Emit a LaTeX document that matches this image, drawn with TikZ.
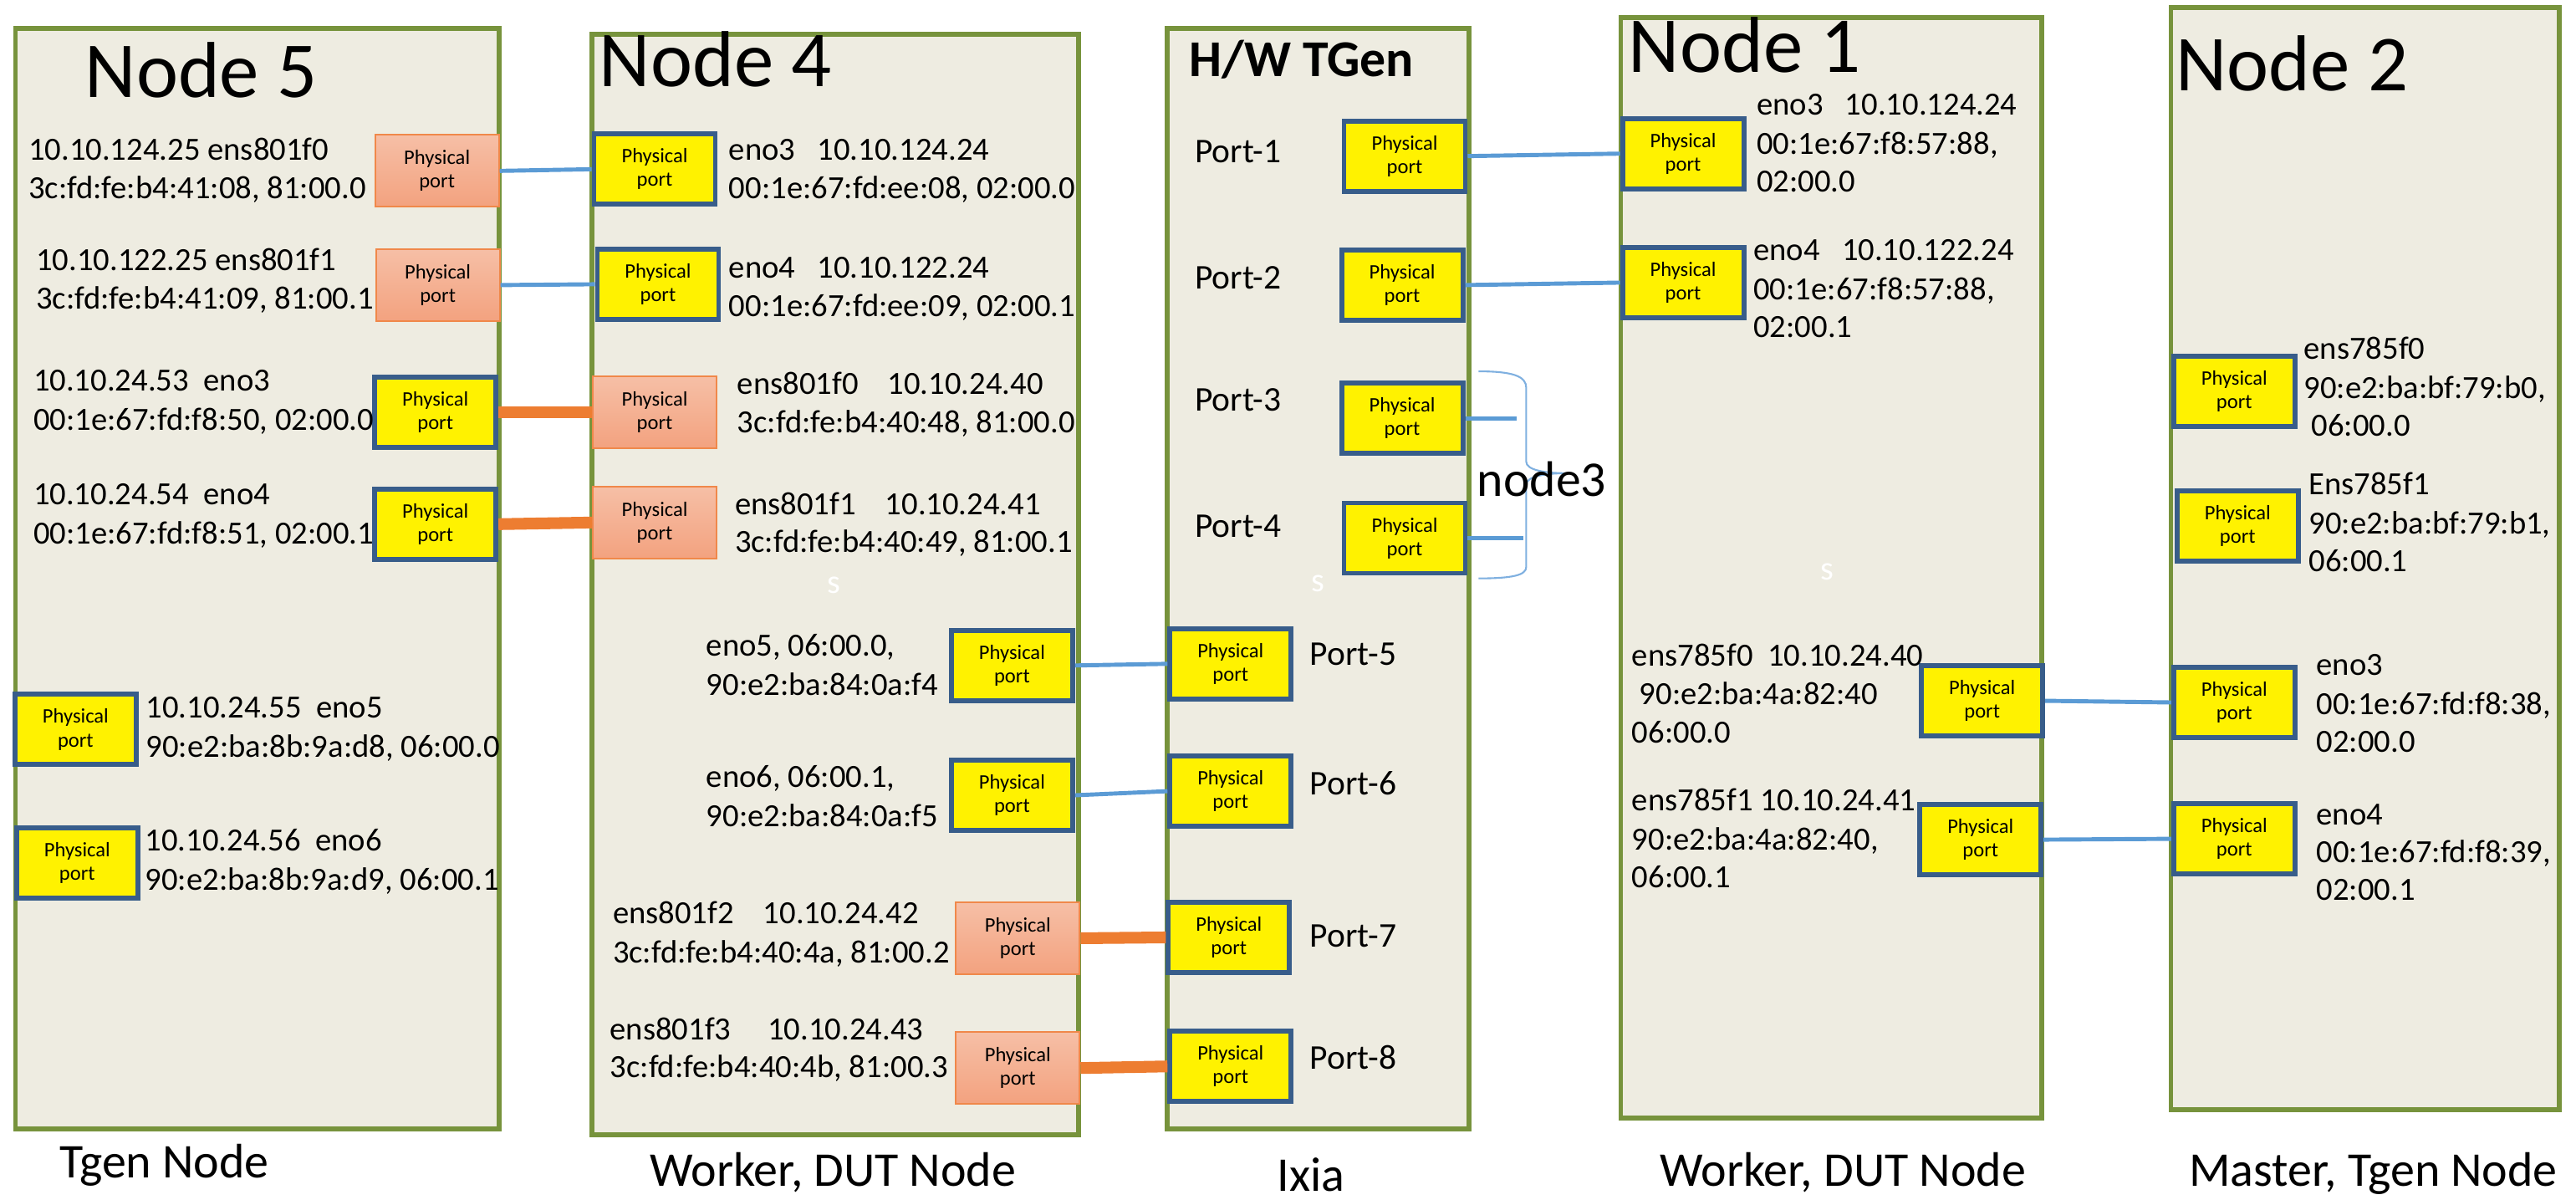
\documentclass[tikz,border=0pt]{standalone}
\usepackage{fontspec}
\setmainfont{Carlito}

\definecolor{boxfill}{HTML}{EEECE1}
\definecolor{boxline}{HTML}{77933C}
\definecolor{portblue}{HTML}{385D8A}
\definecolor{salmonline}{HTML}{F0884A}
\definecolor{salmontop}{HTML}{F6BFA6}
\definecolor{salmonbot}{HTML}{F3A27F}
\definecolor{linkblue}{HTML}{5B9BD5}
\definecolor{linkorange}{HTML}{ED7D31}
\definecolor{bracecol}{HTML}{7FB0E0}

\begin{document}
\begin{tikzpicture}[x=0.019649cm,y=-0.019649cm,
  hostbox/.style={draw=boxline, fill=boxfill, line width=0.059cm, inner sep=0pt},
  yport/.style={draw=portblue, fill=yellow, line width=0.059cm, minimum width=1.45cm,
    minimum height=0.84cm, inner sep=0pt, align=center, font=\fontsize{7}{8}\selectfont},
  sport/.style={draw=salmonline, top color=salmontop, bottom color=salmonbot, line width=0.6pt,
    minimum width=1.48cm, minimum height=0.86cm, inner sep=0pt, align=center,
    font=\fontsize{7}{8}\selectfont},
  nic/.style={anchor=base west, inner sep=0pt, font=\fontsize{11}{13}\selectfont},
  portlbl/.style={anchor=base west, inner sep=0pt, font=\fontsize{11.8}{14}\selectfont},
  hosttitle/.style={anchor=base west, inner sep=0pt, font=\fontsize{27}{32}\selectfont},
  rolelabel/.style={anchor=base, inner sep=0pt, font=\fontsize{16.5}{20}\selectfont},
  ghost/.style={anchor=base west, inner sep=0pt, text=white, font=\fontsize{11.5}{13}\selectfont},
  bluelink/.style={draw=linkblue, line width=1.4pt},
  orangelink/.style={draw=linkorange, line width=4pt},
]
\useasboundingbox (0,0) rectangle (1568,730);

% ---------------- host enclosures ----------------
\node[hostbox, minimum width=5.787cm, minimum height=13.167cm] (node5) at (156.65,352.15) {};
\node[hostbox, minimum width=5.820cm, minimum height=13.167cm] (node4) at (508.6,355.65) {};
\node[hostbox, minimum width=3.613cm, minimum height=13.165cm] (ixia) at (802.25,352.2) {};
\node[hostbox, minimum width=5.038cm, minimum height=13.159cm] (node1) at (1114.7,345.45) {};
\node[hostbox, minimum width=4.645cm, minimum height=13.177cm] (node2) at (1439.6,340) {};

% ---------------- titles ----------------
\node[hosttitle] (t5) at (51.5,59.4) {Node 5};
\node[hosttitle] (t4) at (364.5,52.6) {Node 4};
\node[hosttitle] (t1) at (991,43.8) {Node 1};
\node[hosttitle] (t2) at (1324,55) {Node 2};
\node[anchor=base west, inner sep=0pt, font=\bfseries\fontsize{17.6}{20}\selectfont] (tx) at (723.7,46.7) {H/W TGen};

% ---------------- physical ports ----------------
% Node 5
\node[sport] (p5a) at (266,104) {Physical\\port};
\node[sport] (p5b) at (266.5,173.5) {Physical\\port};
\node[yport] (p5c) at (265,251) {Physical\\port};
\node[yport] (p5d) at (265,319) {Physical\\port};
\node[yport] (p5e) at (46,444) {Physical\\port};
\node[yport] (p5f) at (47,525) {Physical\\port};
% Node 4
\node[yport] (p4a) at (398.5,103) {Physical\\port};
\node[yport] (p4b) at (400.5,173) {Physical\\port};
\node[sport] (p4c) at (398.5,251) {Physical\\port};
\node[sport] (p4d) at (398.5,318) {Physical\\port};
\node[yport] (p4e) at (616,405) {Physical\\port};
\node[yport] (p4f) at (616,484) {Physical\\port};
\node[sport] (p4g) at (619.5,571) {Physical\\port};
\node[sport] (p4h) at (619.5,650) {Physical\\port};
% Ixia
\node[yport] (i1) at (855,95) {Physical\\port};
\node[yport] (i2) at (853.5,173.5) {Physical\\port};
\node[yport] (i3) at (853.5,254.5) {Physical\\port};
\node[yport] (i4) at (855,327.5) {Physical\\port};
\node[yport] (i5) at (749,404) {Physical\\port};
\node[yport] (i6) at (749,481.5) {Physical\\port};
\node[yport] (i7) at (748,570.5) {Physical\\port};
\node[yport] (i8) at (749,649) {Physical\\port};
% Node 1
\node[yport] (n1a) at (1024.5,93.5) {Physical\\port};
\node[yport] (n1b) at (1024.5,172) {Physical\\port};
\node[yport] (n1c) at (1206.5,426.5) {Physical\\port};
\node[yport] (n1d) at (1205.5,511) {Physical\\port};
% Node 2
\node[yport] (n2a) at (1360,238) {Physical\\port};
\node[yport] (n2b) at (1362,320) {Physical\\port};
\node[yport] (n2c) at (1360,427.5) {Physical\\port};
\node[yport] (n2d) at (1360,510.5) {Physical\\port};

% ---------------- cables ----------------
\draw[bluelink] (p5a.east) -- (p4a.west);
\draw[bluelink] (p5b.east) -- (p4b.west);
\draw[orangelink] (p5c.east) -- (p4c.west);
\draw[orangelink] (p5d.east) -- (p4d.west);
\draw[bluelink] (p4e.east) -- (i5.west);
\draw[bluelink] (p4f.east) -- (i6.west);
\draw[orangelink] (p4g.east) -- (i7.west);
\draw[orangelink] (p4h.east) -- (i8.west);
\draw[bluelink] (i1.east) -- (n1a.west);
\draw[bluelink] (i2.east) -- (n1b.west);
\draw[bluelink] (n1c.east) -- (n2c.west);
\draw[bluelink] (n1d.east) -- (n2d.west);

% Ixia ports 3 and 4 go to node3
\coordinate (b3) at (923,253);
\coordinate (b4) at (927,327);
\draw[bluelink] (i3.east) -- (i3.east -| b3);
\draw[bluelink] (i4.east) -- (i4.east -| b4);
\draw[bracecol, line width=0.6pt]
  (900,226) .. controls (921,226) and (929,229) .. (929,236) -- (929,281)
  .. controls (929,286) and (940,288) .. (954,288)
  .. controls (940,288) and (929,290) .. (929,295) -- (929,345)
  .. controls (929,350) and (921,352) .. (900,352);
\node[anchor=base west, inner sep=0pt, font=\fontsize{17}{20}\selectfont] (n3) at (898.8,302.3) {node3};

% ---------------- Node 5 interfaces ----------------
\node[nic] (a1) at (17,97.7) {10.10.124.25 ens801f0};
\node[nic] (a2) at (17,121) {3c:fd:fe:b4:41:08, 81:00.0};
\node[nic] (a3) at (21.6,164.4) {10.10.122.25 ens801f1};
\node[nic] (a4) at (21.6,188) {3c:fd:fe:b4:41:09, 81:00.1};
\node[nic] (a5) at (20,238) {10.10.24.53~~eno3};
\node[nic] (a6) at (20,262) {00:1e:67:fd:f8:50, 02:00.0};
\node[nic] (a7) at (20,307) {10.10.24.54~~eno4};
\node[nic] (a8) at (20,331) {00:1e:67:fd:f8:51, 02:00.1};
\node[nic] (a9) at (88.6,437) {10.10.24.55~~eno5};
\node[nic] (a10) at (88.6,461) {90:e2:ba:8b:9a:d8, 06:00.0};
\node[nic] (a11) at (88,518) {10.10.24.56~~eno6};
\node[nic] (a12) at (88,542) {90:e2:ba:8b:9a:d9, 06:00.1};

% ---------------- Node 4 interfaces ----------------
\node[nic] (b1) at (443.4,97.7) {eno3~~~10.10.124.24};
\node[nic] (b2) at (443.4,121) {00:1e:67:fd:ee:08, 02:00.0};
\node[nic] (b5) at (443.4,169) {eno4~~~10.10.122.24};
\node[nic] (b6) at (443.4,192.5) {00:1e:67:fd:ee:09, 02:00.1};
\node[nic] (b7) at (448.5,240) {ens801f0~~~~10.10.24.40};
\node[nic] (b8) at (448.5,263.6) {3c:fd:fe:b4:40:48, 81:00.0};
\node[nic] (b9) at (447,313) {ens801f1~~~~10.10.24.41};
\node[nic] (b10) at (447,336) {3c:fd:fe:b4:40:49, 81:00.1};
\node[nic] (b11) at (429.6,399.5) {eno5, 06:00.0,};
\node[nic] (b12) at (429.6,423.4) {90:e2:ba:84:0a:f4};
\node[nic] (b13) at (429.6,479) {eno6, 06:00.1,};
\node[nic] (b14) at (429.6,503) {90:e2:ba:84:0a:f5};
\node[nic] (b15) at (372.7,562) {ens801f2~~~~10.10.24.42};
\node[nic] (b16) at (372.7,586) {3c:fd:fe:b4:40:4a, 81:00.2};
\node[nic] (b17) at (371,632.6) {ens801f3~~~~~10.10.24.43};
\node[nic] (b18) at (371,655.5) {3c:fd:fe:b4:40:4b, 81:00.3};

% ---------------- Ixia port labels ----------------
\node[portlbl] (l1) at (727,99) {Port-1};
\node[portlbl] (l2) at (727,175.6) {Port-2};
\node[portlbl] (l3) at (727,250) {Port-3};
\node[portlbl] (l4) at (727,327) {Port-4};
\node[portlbl] (l5) at (797,405) {Port-5};
\node[portlbl] (l6) at (797,483.5) {Port-6};
\node[portlbl] (l7) at (797,576.6) {Port-7};
\node[portlbl] (l8) at (797,650.5) {Port-8};

% ---------------- Node 1 interfaces ----------------
\node[nic] (c1) at (1069,70) {eno3~~~10.10.124.24};
\node[nic] (c2) at (1069,94) {00:1e:67:f8:57:88,};
\node[nic] (c3) at (1069,116.7) {02:00.0};
\node[nic] (c4) at (1067,158.6) {eno4~~~10.10.122.24};
\node[nic] (c5) at (1067,182.4) {00:1e:67:f8:57:88,};
\node[nic] (c6) at (1067,205.3) {02:00.1};
\node[nic] (c7) at (993,405.5) {ens785f0~~10.10.24.40};
\node[nic] (c8) at (997.6,429) {90:e2:ba:4a:82:40};
\node[nic] (c9) at (993,452) {06:00.0};
\node[nic] (c10) at (993,493.6) {ens785f1 10.10.24.41};
\node[nic] (c11) at (993,517.4) {90:e2:ba:4a:82:40,};
\node[nic] (c12) at (993,540.4) {06:00.1};

% ---------------- Node 2 interfaces ----------------
\node[nic] (d1) at (1402,218.8) {ens785f0};
\node[nic] (d2) at (1402,242.6) {90:e2:ba:bf:79:b0,};
\node[nic] (d3) at (1406.7,265.6) {06:00.0};
\node[nic] (d4) at (1405,301) {Ens785f1};
\node[nic] (d5) at (1405,324.7) {90:e2:ba:bf:79:b1,};
\node[nic] (d6) at (1405,348) {06:00.1};
\node[nic] (d7) at (1409.7,411) {eno3};
\node[nic] (d8) at (1409.7,434.7) {00:1e:67:fd:f8:38,};
\node[nic] (d9) at (1409.7,457.6) {02:00.0};
\node[nic] (d10) at (1409.7,501.8) {eno4};
\node[nic] (d11) at (1409.7,525) {00:1e:67:fd:f8:39,};
\node[nic] (d12) at (1409.7,548) {02:00.1};

% faint white marks
\node[ghost] (s4) at (503,361) {s};
\node[ghost] (sx) at (797.7,360) {s};
\node[ghost] (s1) at (1108,352.7) {s};

% ---------------- roles ----------------
\node[rolelabel] (r5) at (100,717) {Tgen Node};
\node[rolelabel] (r4) at (507,722) {Worker, DUT Node};
\node[rolelabel] (rx) at (798,725) {Ixia};
\node[rolelabel] (r1) at (1121.7,722) {Worker, DUT Node};
\node[rolelabel] (r2) at (1444.6,722) {Master, Tgen Node};
\end{tikzpicture}
\end{document}
